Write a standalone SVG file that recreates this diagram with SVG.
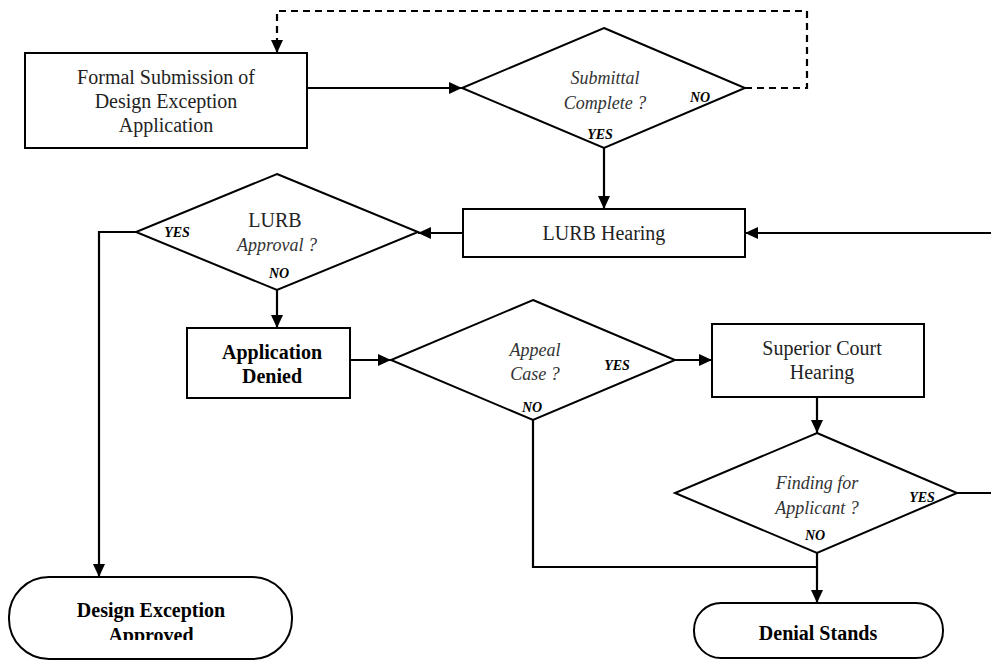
<svg xmlns="http://www.w3.org/2000/svg" width="991" height="660" viewBox="0 0 991 660">
<style>
.box{fill:#fff;stroke:#000;stroke-width:2}
.ln{fill:none;stroke:#000;stroke-width:2.2}
.dash{stroke-dasharray:7 5}
.t{font-family:"Liberation Serif",serif;font-size:20px;fill:#222;text-anchor:middle}
.i{font-family:"Liberation Serif",serif;font-size:18px;font-style:italic;fill:#333;text-anchor:middle}
.b{font-family:"Liberation Serif",serif;font-size:20px;font-weight:bold;fill:#000;text-anchor:middle}
.l{font-family:"Liberation Serif",serif;font-size:14px;font-weight:bold;font-style:italic;fill:#000;text-anchor:middle}
</style>
<defs>
<marker id="ah" markerUnits="userSpaceOnUse" markerWidth="14" markerHeight="14" refX="13" refY="7" orient="auto">
<path d="M0,1 L13,7 L0,13 z" fill="#000"/>
</marker>
<clipPath id="clipA"><rect x="0" y="590" width="300" height="50"/></clipPath>
</defs>
<g id="connectors">
<path class="ln" d="M307,88 H462" marker-end="url(#ah)"/>
<path class="ln dash" d="M745,88 H807 V11 H277 V53" marker-end="url(#ah)"/>
<path class="ln" d="M604,148 V209" marker-end="url(#ah)"/>
<path class="ln" d="M991,233 H745" marker-end="url(#ah)"/>
<path class="ln" d="M463,233 H418" marker-end="url(#ah)"/>
<path class="ln" d="M136,232 H99 V577" marker-end="url(#ah)"/>
<path class="ln" d="M277,290 V328" marker-end="url(#ah)"/>
<path class="ln" d="M350,360 H391" marker-end="url(#ah)"/>
<path class="ln" d="M675,360 H712" marker-end="url(#ah)"/>
<path class="ln" d="M817,397 V433" marker-end="url(#ah)"/>
<path class="ln" d="M957,493 H991"/>
<path class="ln" d="M533,420 V567 H817"/>
<path class="ln" d="M817,553 V603" marker-end="url(#ah)"/>
</g>
<g id="formal">
<rect class="box" x="25" y="53" width="282" height="95"/>
<text class="t" x="166" y="84">Formal Submission of</text>
<text class="t" x="166" y="108">Design Exception</text>
<text class="t" x="166" y="132">Application</text>
</g>
<g id="submittal">
<polygon class="box" points="604,28 745,88 604,148 462,88"/>
<text class="i" x="605" y="84">Submittal</text>
<text class="i" x="605" y="109">Complete ?</text>
<text class="l" x="700" y="102">NO</text>
<text class="l" x="600" y="139">YES</text>
</g>
<g id="lurbHearing">
<rect class="box" x="463" y="209" width="282" height="48"/>
<text class="t" x="604" y="240">LURB Hearing</text>
</g>
<g id="lurbApproval">
<polygon class="box" points="277,174 418,232 277,290 136,232"/>
<text class="t" x="275" y="227">LURB</text>
<text class="i" x="277" y="251">Approval ?</text>
<text class="l" x="177" y="237">YES</text>
<text class="l" x="279" y="278">NO</text>
</g>
<g id="appDenied">
<rect class="box" x="187" y="328" width="163" height="70"/>
<text class="b" x="272" y="359">Application</text>
<text class="b" x="272" y="383">Denied</text>
</g>
<g id="appeal">
<polygon class="box" points="533,300 675,360 533,420 391,360"/>
<text class="i" x="535" y="356">Appeal</text>
<text class="i" x="535" y="380">Case ?</text>
<text class="l" x="617" y="370">YES</text>
<text class="l" x="532" y="412">NO</text>
</g>
<g id="superior">
<rect class="box" x="712" y="324" width="212" height="73"/>
<text class="t" x="822" y="355">Superior Court</text>
<text class="t" x="822" y="379">Hearing</text>
</g>
<g id="finding">
<polygon class="box" points="817,433 957,493 817,553 675,493"/>
<text class="i" x="817" y="489">Finding for</text>
<text class="i" x="817" y="514">Applicant ?</text>
<text class="l" x="922" y="502">YES</text>
<text class="l" x="815" y="540">NO</text>
</g>
<g id="approved">
<rect class="box" x="9" y="577" width="283" height="82" rx="40" ry="40"/>
<g clip-path="url(#clipA)">
<text class="b" x="151" y="617">Design Exception</text>
<text class="b" x="151" y="642">Approved</text>
</g>
</g>
<g id="denial">
<rect class="box" x="694" y="603" width="249" height="55" rx="27" ry="27"/>
<text class="b" x="818" y="640">Denial Stands</text>
</g>
</svg>
